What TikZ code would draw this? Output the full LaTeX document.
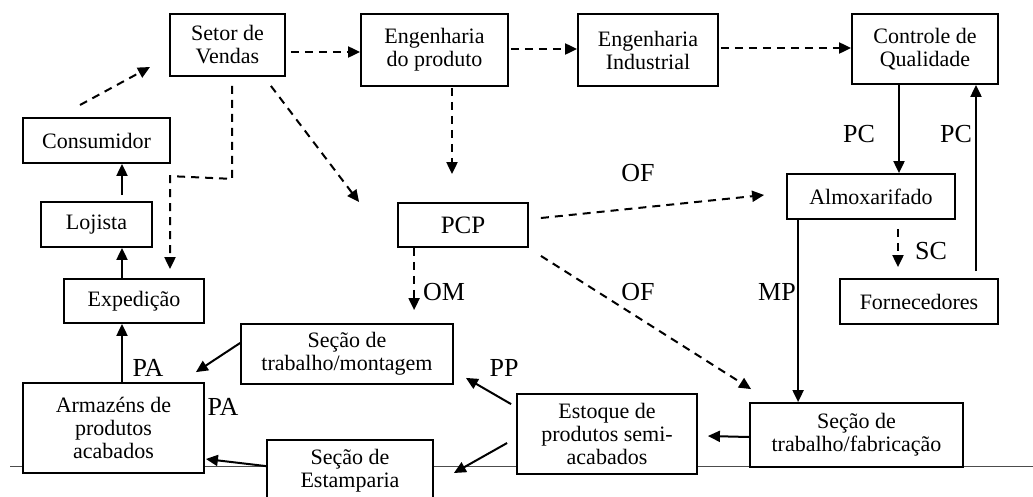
\documentclass[tikz,border=0pt]{standalone}
\usepackage{fontspec}
\setmainfont{Liberation Serif}
\usetikzlibrary{arrows.meta,calc}
\begin{document}
\begin{tikzpicture}[x=1pt,y=-1pt,
  box/.style={draw, line width=1.8pt, fill=white, align=center, inner sep=0pt, font=\fontsize{22}{23}\selectfont},
  lbl/.style={font=\fontsize{26}{28}\selectfont, inner sep=0pt},
  sarrow/.style={line width=2pt, -{Triangle[length=12pt,width=11pt]}},
  darrow/.style={sarrow, dash pattern=on 8pt off 6pt},
  baseline/.style={line width=1pt, draw=black!70}]
\useasboundingbox (0,0) rectangle (1033,496);
\clip (0,0) rectangle (1033,496);
\fill[white] (0,0) rectangle (1033,496);
% ground line
\coordinate (gl) at (10,466.5);
\coordinate (gr) at (1033,466.5);
\draw[baseline] (gl) -- (gr);
% boxes
\node[box, minimum width=115pt, minimum height=62pt] (vendas) at (227.5,45) {Setor de\\Vendas};
\node[box, minimum width=147pt, minimum height=72pt] (engprod) at (434.5,50) {Engenharia\\do produto};
\node[box, minimum width=140pt, minimum height=72pt] (engind) at (648,50) {Engenharia\\Industrial};
\node[box, minimum width=146pt, minimum height=70pt] (cq) at (925,49) {Controle de\\Qualidade};
\node[box, minimum width=147pt, minimum height=45pt] (consumidor) at (96.5,140.5) {Consumidor};
\node[box, minimum width=111pt, minimum height=45pt] (lojista) at (96.5,224.5) {Lojista};
\node[box, minimum width=130pt, minimum height=44pt, font=\fontsize{25}{27}\selectfont] (pcp) at (463,225) {PCP};
\node[box, minimum width=168pt, minimum height=45pt] (almox) at (871,196.5) {Almoxarifado};
\node[box, minimum width=158pt, minimum height=45pt] (forn) at (919,301.5) {Fornecedores};
\node[box, minimum width=140pt, minimum height=44pt] (exped) at (134,301) {Expedição};
\node[box, minimum width=212pt, minimum height=60pt] (montagem) at (347,354) {Seção de\\trabalho/montagem};
\node[box, minimum width=181pt, minimum height=90pt] (armazens) at (113.5,428) {Armazéns de\\produtos\\acabados};
\node[box, minimum width=180pt, minimum height=80pt] (estoque) at (607,434) {Estoque de\\produtos semi-\\acabados};
\node[box, minimum width=213pt, minimum height=64pt] (fab) at (856.5,435) {Seção de\\trabalho/fabricação};
\node[box, minimum width=166pt, minimum height=62pt] (estamp) at (350,471) {Seção de\\Estamparia};
% free ends
\coordinate (c1) at (80,105);
\coordinate (c2) at (150,67);
% dashed connectors
\draw[darrow] (c1) -- (c2);
\draw[darrow] ($(vendas.east)+(5,7)$) -- ($(engprod.west)+(0,2)$);
\draw[darrow] ($(engprod.east)+(2,-1)$) -- ($(engind.west)+(0,-1)$);
\draw[darrow] ($(engind.east)+(2,-2)$) -- ($(cq.west)+(0,-1)$);
\draw[darrow] ($(vendas.south)+(4.5,9)$) -- ($(vendas.south)+(4.5,102)$) -- ($(exped.north)+(36,-102)$) -- ($(exped.north)+(36,-9)$);
\draw[darrow] ($(vendas.south east)+(-15,9)$) -- ($(pcp.north west)+(-38,0)$);
\draw[darrow] ($(engprod.south)+(17.5,1)$) -- ($(pcp.north)+(-11,-28)$);
\draw[darrow] ($(pcp.east)+(12,-7)$) -- ($(almox.west)+(-22,-1.5)$);
\draw[darrow] ($(pcp.south east)+(12,8)$) -- ($(fab.north west)+(2,-13)$);
\draw[darrow] ($(pcp.south west)+(17,0)$) -- ($(montagem.north west)+(174,-13)$);
\draw[darrow] ($(almox.south)+(27,9)$) -- ($(forn.north)+(-21,-11)$);
% solid connectors
\draw[sarrow] ($(cq.south)+(-26,0)$) -- ($(almox.north)+(28,0)$);
\draw[sarrow] ($(forn.north)+(57,-7)$) -- ($(cq.south)+(51,0)$);
\draw[sarrow] ($(almox.south west)+(12,0)$) -- ($(fab.north west)+(49,0)$);
\draw[sarrow] ($(fab.west)+(0,2)$) -- ($(estoque.east)+(10,2)$);
\draw[sarrow] ($(estoque.north west)+(-5,11)$) -- ($(montagem.south east)+(12,-7)$);
\draw[sarrow] ($(estoque.west)+(-9,9)$) -- ($(estamp.east)+(20,2)$);
\draw[sarrow] ($(estamp.north west)+(0,27)$) -- ($(armazens.east)+(1,31)$);
\draw[sarrow] ($(montagem.west)+(0,-11)$) -- ($(armazens.north east)+(-9,-10)$);
\draw[sarrow] ($(armazens.north)+(8.5,0)$) -- ($(exped.south)+(-12,0)$);
\draw[sarrow] ($(exped.north)+(-12,0)$) -- ($(lojista.south)+(25.5,0)$);
\draw[sarrow] ($(lojista.north)+(25.5,-6)$) -- ($(consumidor.south)+(25.5,0)$);
% labels
\node[lbl] (lpc1) at (859,134) {PC};
\node[lbl] (lpc2) at (956,134) {PC};
\node[lbl] (lof1) at (638,173) {OF};
\node[lbl] (lsc) at (931,251) {SC};
\node[lbl] (lmp) at (777,292) {MP};
\node[lbl] (lof2) at (638,292) {OF};
\node[lbl] (lom) at (444,292) {OM};
\node[lbl] (lpa1) at (148,368) {PA};
\node[lbl] (lpa2) at (223,407) {PA};
\node[lbl] (lpp) at (504,368) {PP};
\end{tikzpicture}
\end{document}
